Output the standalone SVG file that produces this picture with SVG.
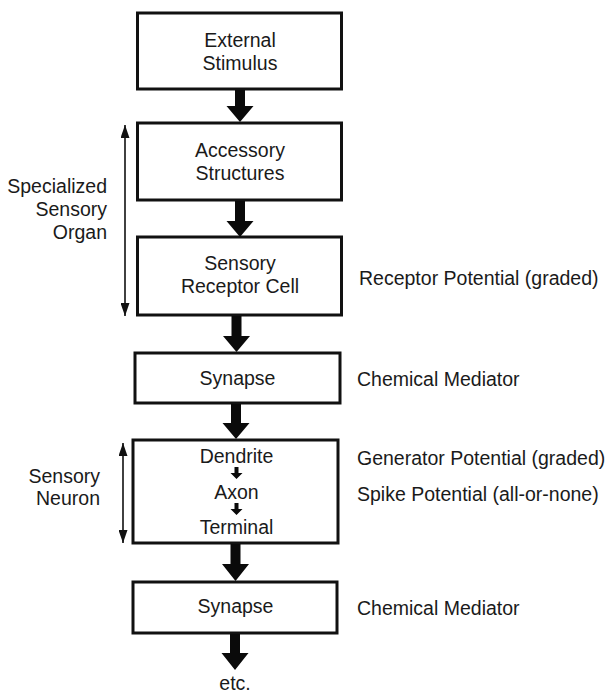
<svg xmlns="http://www.w3.org/2000/svg" width="608" height="693" viewBox="0 0 608 693">
  <defs>
    <style>
      .box { fill: #ffffff; stroke: #111111; stroke-width: 3; }
      .t { font-family: "Liberation Sans", Arial, Helvetica, sans-serif; font-size: 19.5px; fill: #1a1a1a; }
      .c { text-anchor: middle; }
      .r { text-anchor: end; }
      .flow { fill: #0a0a0a; stroke: none; }
      .span { stroke: #111111; stroke-width: 1.6; fill: none; }
    </style>
    <marker id="tip" viewBox="0 0 10 10" refX="10" refY="5" markerWidth="13" markerHeight="9" markerUnits="userSpaceOnUse" orient="auto-start-reverse" preserveAspectRatio="none">
      <path d="M0,0 L10,5 L0,10 Z" fill="#111111"/>
    </marker>
  </defs>
  <rect width="608" height="693" fill="#ffffff"/>

  <!-- flow boxes -->
  <g id="external-stimulus">
    <rect class="box" x="137.5" y="13" width="204" height="76"/>
    <text class="t c" x="240" y="47">External</text>
    <text class="t c" x="240" y="70">Stimulus</text>
  </g>
  <g id="accessory-structures">
    <rect class="box" x="137.5" y="123" width="204" height="77"/>
    <text class="t c" x="240" y="157">Accessory</text>
    <text class="t c" x="240" y="180">Structures</text>
  </g>
  <g id="sensory-receptor-cell">
    <rect class="box" x="137.5" y="237" width="204" height="78"/>
    <text class="t c" x="240" y="270">Sensory</text>
    <text class="t c" x="240" y="293">Receptor Cell</text>
  </g>
  <g id="synapse-1">
    <rect class="box" x="135" y="353" width="205" height="50"/>
    <text class="t c" x="237.5" y="385">Synapse</text>
  </g>
  <g id="sensory-neuron">
    <rect class="box" x="133" y="440" width="205" height="103"/>
    <text class="t c" x="236.5" y="463">Dendrite</text>
    <text class="t c" x="236.5" y="499">Axon</text>
    <text class="t c" x="236.5" y="534">Terminal</text>
    <path class="flow" d="M234.5,467 h4 v6 h4 l-6,6 l-6,-6 h4 Z"/>
    <path class="flow" d="M234.5,503 h4 v6 h4 l-6,6 l-6,-6 h4 Z"/>
  </g>
  <g id="synapse-2">
    <rect class="box" x="133" y="582" width="204" height="51"/>
    <text class="t c" x="235.5" y="613">Synapse</text>
  </g>
  <g id="etc">
    <text class="t c" x="235" y="690">etc.</text>
  </g>

  <!-- side annotations -->
  <g id="organ-label">
    <text class="t r" x="107" y="193">Specialized</text>
    <text class="t r" x="107" y="216">Sensory</text>
    <text class="t r" x="107" y="239">Organ</text>
  </g>
  <g id="neuron-label">
    <text class="t r" x="100" y="483">Sensory</text>
    <text class="t r" x="100" y="505">Neuron</text>
  </g>
  <g id="signal-labels">
    <text class="t" x="359" y="285">Receptor Potential (graded)</text>
    <text class="t" x="357" y="386">Chemical Mediator</text>
    <text class="t" x="357" y="465">Generator Potential (graded)</text>
    <text class="t" x="357" y="501">Spike Potential (all-or-none)</text>
    <text class="t" x="357" y="615">Chemical Mediator</text>
  </g>

  <!-- connectors -->
  <g id="connectors">
    <path class="flow" d="M235,90 h10 v16 h8.5 l-13.5,16 l-13.5,-16 h8.5 Z"/>
    <path class="flow" d="M235,201 h10 v20 h8.5 l-13.5,16 l-13.5,-16 h8.5 Z"/>
    <path class="flow" d="M231.5,316 h10 v20 h8.5 l-13.5,16 l-13.5,-16 h8.5 Z"/>
    <path class="flow" d="M231,404 h10 v19 h8.5 l-13.5,16 l-13.5,-16 h8.5 Z"/>
    <path class="flow" d="M230.5,544 h10 v20 h8.5 l-13.5,17 l-13.5,-17 h8.5 Z"/>
    <path class="flow" d="M230,634 h10 v19 h8.5 l-13.5,17 l-13.5,-17 h8.5 Z"/>
    <line class="span" x1="125" y1="125" x2="125" y2="316" marker-start="url(#tip)" marker-end="url(#tip)"/>
    <line class="span" x1="123" y1="443" x2="123" y2="543" marker-start="url(#tip)" marker-end="url(#tip)"/>
  </g>
</svg>
